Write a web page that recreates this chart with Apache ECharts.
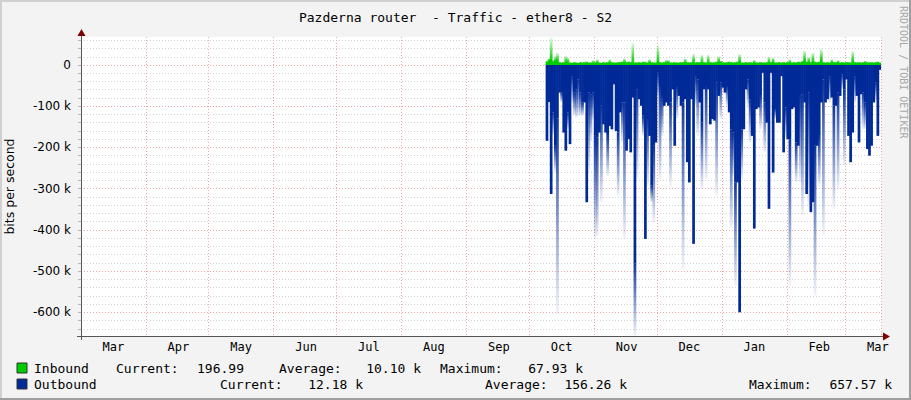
<!DOCTYPE html>
<html>
<head>
<meta charset="utf-8">
<title>Pazderna router - Traffic - ether8 - S2</title>
<script src="https://cdn.jsdelivr.net/npm/echarts@6/dist/echarts.min.js"></script>
<style>
  html, body { margin: 0; padding: 0; background: #f3f3f3; }
  #chart { width: 911px; height: 400px; }
</style>
</head>
<body>
<div id="chart"></div>
<script>
// x axis: one category per day, 1 Mar 2017 .. 17 Mar 2018
const START_DAY = '2017-03-01';
const DAY_COUNT = 382;
const DATA_START = '2017-10-09';
const MONTHS = ['Jan', 'Feb', 'Mar', 'Apr', 'May', 'Jun', 'Jul', 'Aug', 'Sep', 'Oct', 'Nov', 'Dec'];

// daily values in k bits/s, from DATA_START on
const inAvg = [
  8, 12, 15, 9, 10, 12, 6, 5, 6, 9, 8, 5, 5, 6, 5, 5, 6, 5, 6, 7, 5, 5, 6, 6, 7, 5, 5, 6, 5, 6, 7, 6, 5, 5, 6, 6, 7, 8, 6, 7,
  6, 8, 5, 5, 6, 5, 7, 6, 5, 8, 6, 5, 5, 10, 6, 5, 6, 7, 7, 5, 5, 6, 5, 5, 6, 6, 8, 6, 5, 6, 9, 5, 6, 6, 8, 6, 5, 8, 6, 5,
  6, 7, 9, 8, 6, 5, 6, 7, 6, 5, 6, 7, 10, 5, 5, 6, 5, 6, 5, 7, 5, 5, 6, 5, 5, 6, 8, 6, 9, 5, 5, 6, 5, 6, 5, 6, 7, 5, 6, 5,
  7, 6, 8, 12, 7, 9, 6, 11, 7, 6, 7, 12, 6, 5, 6, 5, 7, 6, 6, 7, 5, 6, 5, 6, 6, 5, 10, 6, 5, 6, 5, 6, 7, 6, 5, 6, 5, 6, 7, 5
];
const inMax = [
  10, 16, 66, 12, 22, 30, 8, 7, 8, 22, 18, 7, 6, 8, 7, 6, 8, 7, 8, 9, 7, 7, 12, 8, 14, 7, 6, 8, 7, 8, 14, 8, 7, 7, 8, 8, 9, 16, 8, 9,
  8, 54, 7, 7, 8, 7, 9, 8, 7, 14, 8, 7, 7, 47, 8, 7, 8, 12, 12, 7, 7, 8, 7, 7, 8, 8, 16, 8, 7, 8, 27, 7, 8, 8, 25, 8, 7, 25, 8, 7,
  8, 9, 22, 10, 8, 7, 8, 9, 8, 7, 8, 9, 27, 7, 7, 8, 7, 8, 7, 12, 7, 7, 8, 7, 7, 8, 20, 8, 18, 7, 7, 8, 7, 8, 7, 8, 14, 7, 8, 7,
  9, 8, 10, 35, 9, 20, 8, 30, 9, 8, 9, 40, 8, 7, 8, 7, 14, 8, 8, 12, 7, 8, 7, 8, 8, 7, 34, 8, 7, 8, 7, 8, 10, 8, 7, 8, 7, 8, 9, 7
];
const outAvg = [
  184, 90, 313, 115, 196, 130, 67, 67, 164, 208, 115, 192, 27, 67, 59, 35, 67, 91, 91, 333, 67, 71, 67, 172, 176, 164, 99, 144, 164, 172, 148, 156, 47, 160, 164, 115, 91, 91, 208, 180,
  212, 79, 482, 59, 83, 99, 123, 422, 131, 172, 293, 196, 188, 19, 51, 75, 99, 91, 99, 91, 59, 196, 51, 75, 99, 91, 83, 236, 285, 83, 434, 27, 35, 91, 140, 59, 51, 59, 144, 131,
  135, 43, 75, 43, 55, 67, 51, 115, 156, 164, 285, 285, 600, 156, 156, 59, 35, 83, 172, 397, 107, 103, 75, 19, 91, 140, 349, 19, 261, 107, 140, 140, 27, 212, 103, 180, 180, 107, 103, 188,
  196, 75, 71, 91, 313, 67, 357, 333, 196, 196, 172, 91, 35, 91, 83, 27, 79, 99, 99, 67, 75, 23, 59, 35, 172, 236, 164, 27, 75, 188, 71, 67, 91, 204, 220, 196, 91, 43, 172, 12
];
const outMax = [
  184, 90, 313, 170, 260, 605, 67, 91, 164, 208, 156, 192, 91, 123, 128, 123, 123, 123, 91, 333, 260, 185, 132, 422, 414, 164, 333, 144, 164, 269, 148, 156, 47, 160, 317, 115, 188, 422, 208, 180,
  212, 79, 657, 277, 83, 99, 172, 422, 293, 172, 333, 381, 188, 75, 277, 172, 99, 91, 99, 293, 59, 196, 131, 75, 99, 494, 83, 236, 285, 83, 434, 99, 172, 91, 301, 59, 277, 59, 144, 131,
  135, 317, 75, 131, 55, 67, 99, 115, 397, 269, 535, 285, 600, 277, 156, 59, 99, 188, 172, 397, 107, 103, 156, 19, 212, 140, 349, 19, 261, 131, 140, 140, 27, 212, 180, 180, 535, 107, 103, 285,
  196, 285, 365, 91, 313, 341, 357, 333, 559, 196, 293, 91, 414, 91, 83, 91, 79, 349, 99, 301, 75, 59, 244, 35, 172, 236, 164, 91, 75, 188, 71, 156, 156, 204, 220, 196, 91, 91, 172, 12
];

// y axis grid (k), minor every 20 k, labelled every 100 k
const yGrid = [-640, -620, -600, -580, -560, -540, -520, -500, -480, -460, -440, -420, -400, -380, -360, -340, -320, -300,
  -280, -260, -240, -220, -200, -180, -160, -140, -120, -100, -80, -60, -40, -20, 0, 20, 40, 60];
const yLabels = [-600, -500, -400, -300, -200, -100, 0];
const Y_MIN = -657.57;
const Y_MAX = 67.93;

// legend (rrdtool GPRINT)
const seriesNames = ['Inbound', 'Outbound'];
const currentVals = ['196.99', '12.18 k'];
const averageVals = ['10.10 k', '156.26 k'];
const maximumVals = ['67.93 k', '657.57 k'];

const GREEN = '#00cc00';
const BLUE = '#002a97';
const MONO = '"DejaVu Sans Mono", monospace';
const BAR_W = 2.7;

const categories = [];
const t0 = Date.parse(START_DAY + 'T00:00:00Z');
for (let i = 0; i < DAY_COUNT; i++) {
  categories.push(new Date(t0 + i * 86400000).toISOString().slice(0, 10));
}
const offset = categories.indexOf(DATA_START);

function pad(arr) {
  const out = categories.map(() => null);
  arr.forEach((v, i) => { out[offset + i] = v; });
  return out;
}

const inBase = pad(inAvg.map(v => v * 1000));
const inTail = pad(inMax.map((v, i) => (v - inAvg[i]) * 1000));
const outBase = pad(outAvg.map(v => -v * 1000));
const outTail = pad(outMax.map((v, i) => -(v - outAvg[i]) * 1000));

const monthStart = (idx, val) => val.slice(8, 10) === '01';

const myChart = echarts.init(document.getElementById('chart'), null, { renderer: 'svg' });

function legendRow(i, y, pos) {
  const txt = (x, s, align) => ({
    type: 'text', x: x, y: y,
    style: { text: s, font: '13px ' + MONO, fill: '#000', align: align || 'left', verticalAlign: 'middle' }
  });
  return [
    { type: 'rect', shape: { x: 17, y: y - 5, width: 10, height: 10 },
      style: { fill: i === 0 ? GREEN : BLUE, stroke: '#333', lineWidth: 1 } },
    txt(34, seriesNames[i]),
    txt(pos[0], 'Current:'), txt(pos[1], currentVals[i], 'right'),
    txt(pos[2], 'Average:'), txt(pos[3], averageVals[i], 'right'),
    txt(pos[4], 'Maximum:'), txt(pos[5], maximumVals[i], 'right')
  ];
}

const option = {
  animation: false,
  backgroundColor: '#f3f3f3',
  title: {
    text: 'Pazderna router  - Traffic - ether8 - S2',
    left: 'center',
    top: 6,
    textStyle: { fontFamily: MONO, fontSize: 13, fontWeight: 'normal', color: '#000' }
  },
  grid: {
    left: 81, right: 30, top: 37, bottom: 64,
    outerBoundsMode: 'none',
    show: true, backgroundColor: '#fff', borderWidth: 0
  },
  xAxis: {
    type: 'category',
    data: categories,
    boundaryGap: true,
    axisLine: { onZero: false, lineStyle: { color: '#555', width: 1 } },
    axisTick: { interval: monthStart, length: 3, lineStyle: { color: '#e8a0a0' } },
    axisLabel: {
      interval: (idx, val) => val.slice(8, 10) === '16',
      formatter: val => MONTHS[+val.slice(5, 7) - 1],
      fontFamily: MONO, fontSize: 12, color: '#000', margin: 5
    },
    splitLine: { show: true, interval: monthStart, lineStyle: { color: '#eea8a8', type: [1, 2] } }
  },
  yAxis: {
    type: 'value',
    min: Y_MIN * 1000,
    max: Y_MAX * 1000,
    name: 'bits per second',
    nameLocation: 'middle',
    nameGap: 65,
    nameTextStyle: { fontFamily: '"DejaVu Sans", sans-serif', fontSize: 12.5, color: '#000' },
    axisLine: { show: true, lineStyle: { color: '#555', width: 1 } },
    axisTick: {
      show: true, length: 3, inside: false,
      customValues: yGrid.map(v => v * 1000),
      lineStyle: { color: '#bbb' }
    },
    axisLabel: {
      customValues: yLabels.map(v => v * 1000),
      formatter: v => v === 0 ? '0' : '-' + Math.round(-v / 1000) + ' k',
      fontFamily: '"DejaVu Sans", sans-serif', fontSize: 12, color: '#000', margin: 10
    },
    splitLine: {
      show: true,
      lineStyle: { color: ['#d2d2d2', '#d2d2d2', '#eea8a8', '#d2d2d2', '#d2d2d2'], type: [1, 2] }
    }
  },
  series: [
    {
      name: 'Outbound', type: 'bar', stack: 'out', data: outBase,
      barWidth: BAR_W, barGap: '-100%',
      itemStyle: { color: BLUE }
    },
    {
      name: 'Outbound max', type: 'bar', stack: 'out', data: outTail,
      barWidth: BAR_W, barGap: '-100%',
      itemStyle: {
        color: new echarts.graphic.LinearGradient(0, 0, 0, 1, [
          { offset: 0, color: 'rgba(0, 42, 151, 0.95)' },
          { offset: 1, color: 'rgba(0, 42, 151, 0.05)' }
        ])
      }
    },
    {
      name: 'Inbound', type: 'bar', stack: 'in', data: inBase,
      barWidth: BAR_W, barGap: '-100%',
      itemStyle: { color: GREEN }
    },
    {
      name: 'Inbound max', type: 'bar', stack: 'in', data: inTail,
      barWidth: BAR_W, barGap: '-100%',
      itemStyle: {
        color: new echarts.graphic.LinearGradient(0, 0, 0, 1, [
          { offset: 0, color: 'rgba(0, 204, 0, 0.1)' },
          { offset: 1, color: 'rgba(0, 204, 0, 0.95)' }
        ])
      }
    }
  ],
  graphic: [
    // frame shading
    { type: 'rect', shape: { x: 0, y: 0, width: 911, height: 2 }, style: { fill: '#d0d0d0' } },
    { type: 'rect', shape: { x: 0, y: 0, width: 2, height: 400 }, style: { fill: '#d0d0d0' } },
    { type: 'rect', shape: { x: 909, y: 0, width: 2, height: 400 }, style: { fill: '#9e9e9e' } },
    { type: 'rect', shape: { x: 0, y: 398, width: 911, height: 2 }, style: { fill: '#9e9e9e' } },
    // axis extensions and arrows
    { type: 'line', shape: { x1: 81.5, y1: 33, x2: 81.5, y2: 340 }, style: { stroke: '#555', lineWidth: 1 } },
    { type: 'line', shape: { x1: 77, y1: 336.5, x2: 884, y2: 336.5 }, style: { stroke: '#555', lineWidth: 1 } },
    { type: 'polygon', shape: { points: [[77.5, 36], [85.5, 36], [81.5, 29]] }, style: { fill: '#7f0000' } },
    { type: 'polygon', shape: { points: [[883, 332.5], [883, 340.5], [890, 336.5]] }, style: { fill: '#7f0000' } },
    // watermark
    {
      type: 'text', x: 903, y: 6, rotation: -Math.PI / 2,
      style: { text: 'RRDTOOL / TOBI OETIKER', font: '10px ' + MONO, fill: '#a8a8a8', align: 'left', verticalAlign: 'middle' }
    }
  ]
    .concat(legendRow(0, 368, [116, 244, 279, 421, 440, 583]))
    .concat(legendRow(1, 384, [220, 363, 485, 627, 749, 892]))
};

myChart.setOption(option);
</script>
</body>
</html>
